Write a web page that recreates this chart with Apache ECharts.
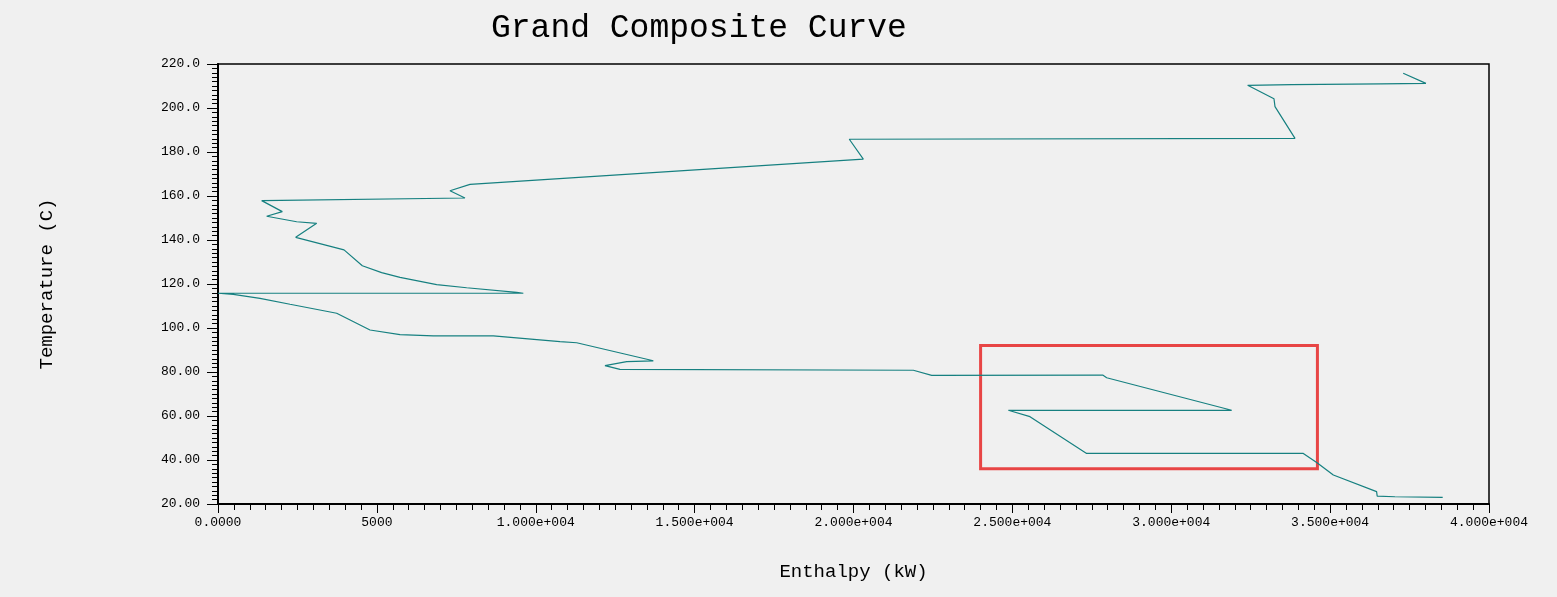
<!DOCTYPE html>
<html>
<head>
<meta charset="utf-8">
<title>Grand Composite Curve</title>
<script src="https://cdn.jsdelivr.net/npm/echarts@6/dist/echarts.min.js"></script>
<style>
  html, body { margin: 0; padding: 0; background: #f0f0f0; }
  #gcc { width: 1557px; height: 597px; }
</style>
</head>
<body>
<div id="gcc"></div>
<script>
// curve points (kW, C)
var enthalpy = [37300, 38015, 36600, 33790, 32405, 33233, 33265, 33895, 19868, 20309,
  15271, 7931, 7301, 7773, 1375, 2024, 1532, 2476, 3106, 2445,
  3966, 4542, 5150, 5728, 6882, 7826, 9400, 9609, 0, 483,
  1322, 2266, 3735, 4784, 5728, 6777, 8665, 10763, 11288, 13700,
  12862, 12179, 12651, 21883, 22461, 27842, 27968, 31901, 24873, 25554,
  27337, 34156, 34577, 35101, 36462, 36482, 37040, 38543];
var temperature = [215.8, 211.2, 211.0, 210.6, 210.3, 204.2, 200.6, 186.2, 185.8, 176.8,
  172.1, 165.3, 162.4, 159.1, 157.9, 152.9, 150.8, 148.3, 147.6, 141.2,
  135.5, 128.3, 125.2, 123.0, 119.7, 118.3, 116.2, 115.8, 115.8, 115.3,
  113.5, 110.8, 106.7, 99.1, 97.0, 96.4, 96.4, 93.8, 93.3, 85.1,
  84.7, 82.9, 81.2, 80.8, 78.5, 78.6, 77.4, 62.6, 62.6, 59.7,
  43.0, 43.0, 38.9, 33.2, 25.6, 23.6, 23.3, 23.0];

var xTickLabels = ['0.0000', '5000', '1.000e+004', '1.500e+004', '2.000e+004',
  '2.500e+004', '3.000e+004', '3.500e+004', '4.000e+004'];
var yTickLabels = ['20.00', '40.00', '60.00', '80.00', '100.0', '120.0',
  '140.0', '160.0', '180.0', '200.0', '220.0'];

// highlighted region (data units)
var boxCorners = [[24000, 92], [34600, 36]];

var points = [];
for (var i in enthalpy) {
    points.push([enthalpy[i], temperature[i]]);
}

var myChart = echarts.init(document.getElementById('gcc'));

var monoFont = '"Liberation Mono", "DejaVu Sans Mono", monospace';

var option = {
    animation: false,
    backgroundColor: '#f0f0f0',
    title: {
        text: 'Grand Composite Curve',
        left: 486,
        top: 7,
        textStyle: { fontFamily: monoFont, fontSize: 33, fontWeight: 'normal', color: '#000' }
    },
    grid: {
        left: 218, top: 64, right: 68, bottom: 93,
        show: true,
        borderColor: '#000',
        borderWidth: 1.5,
        backgroundColor: 'transparent'
    },
    xAxis: {
        type: 'value',
        min: 0, max: 40000, interval: 5000,
        name: 'Enthalpy (kW)',
        nameLocation: 'middle',
        nameGap: 58,
        nameTextStyle: { fontFamily: monoFont, fontSize: 19, color: '#000' },
        axisLine: { show: true, onZero: false, lineStyle: { color: '#000', width: 2 } },
        axisTick: { show: true, length: 9, lineStyle: { color: '#000' } },
        minorTick: { show: true, splitNumber: 10, length: 6, lineStyle: { color: '#000' } },
        splitLine: { show: false },
        axisLabel: {
            margin: 12,
            fontFamily: monoFont, fontSize: 13, color: '#000',
            formatter: function (v) { return xTickLabels[Math.round(v / 5000)]; }
        }
    },
    yAxis: {
        type: 'value',
        min: 20, max: 220, interval: 20,
        name: 'Temperature (C)',
        nameLocation: 'middle',
        nameGap: 162,
        nameTextStyle: { fontFamily: monoFont, fontSize: 19, color: '#000' },
        axisLine: { show: true, onZero: false, lineStyle: { color: '#000', width: 2 } },
        axisTick: { show: true, length: 11, lineStyle: { color: '#000' } },
        minorTick: { show: true, splitNumber: 10, length: 6, lineStyle: { color: '#000' } },
        splitLine: { show: false },
        axisLabel: {
            margin: 18,
            fontFamily: monoFont, fontSize: 13, color: '#000',
            formatter: function (v) { return yTickLabels[Math.round((v - 20) / 20)]; }
        }
    },
    series: [{
        name: 'GCC',
        type: 'line',
        data: points,
        showSymbol: false,
        symbol: 'none',
        lineStyle: { color: '#168080', width: 1.2 },
        markArea: {
            silent: true,
            itemStyle: { color: 'rgba(0,0,0,0)', borderColor: '#e84545', borderWidth: 3 },
            data: [[
                { xAxis: boxCorners[0][0], yAxis: boxCorners[0][1] },
                { xAxis: boxCorners[1][0], yAxis: boxCorners[1][1] }
            ]]
        }
    }]
};

myChart.setOption(option);
</script>
</body>
</html>
